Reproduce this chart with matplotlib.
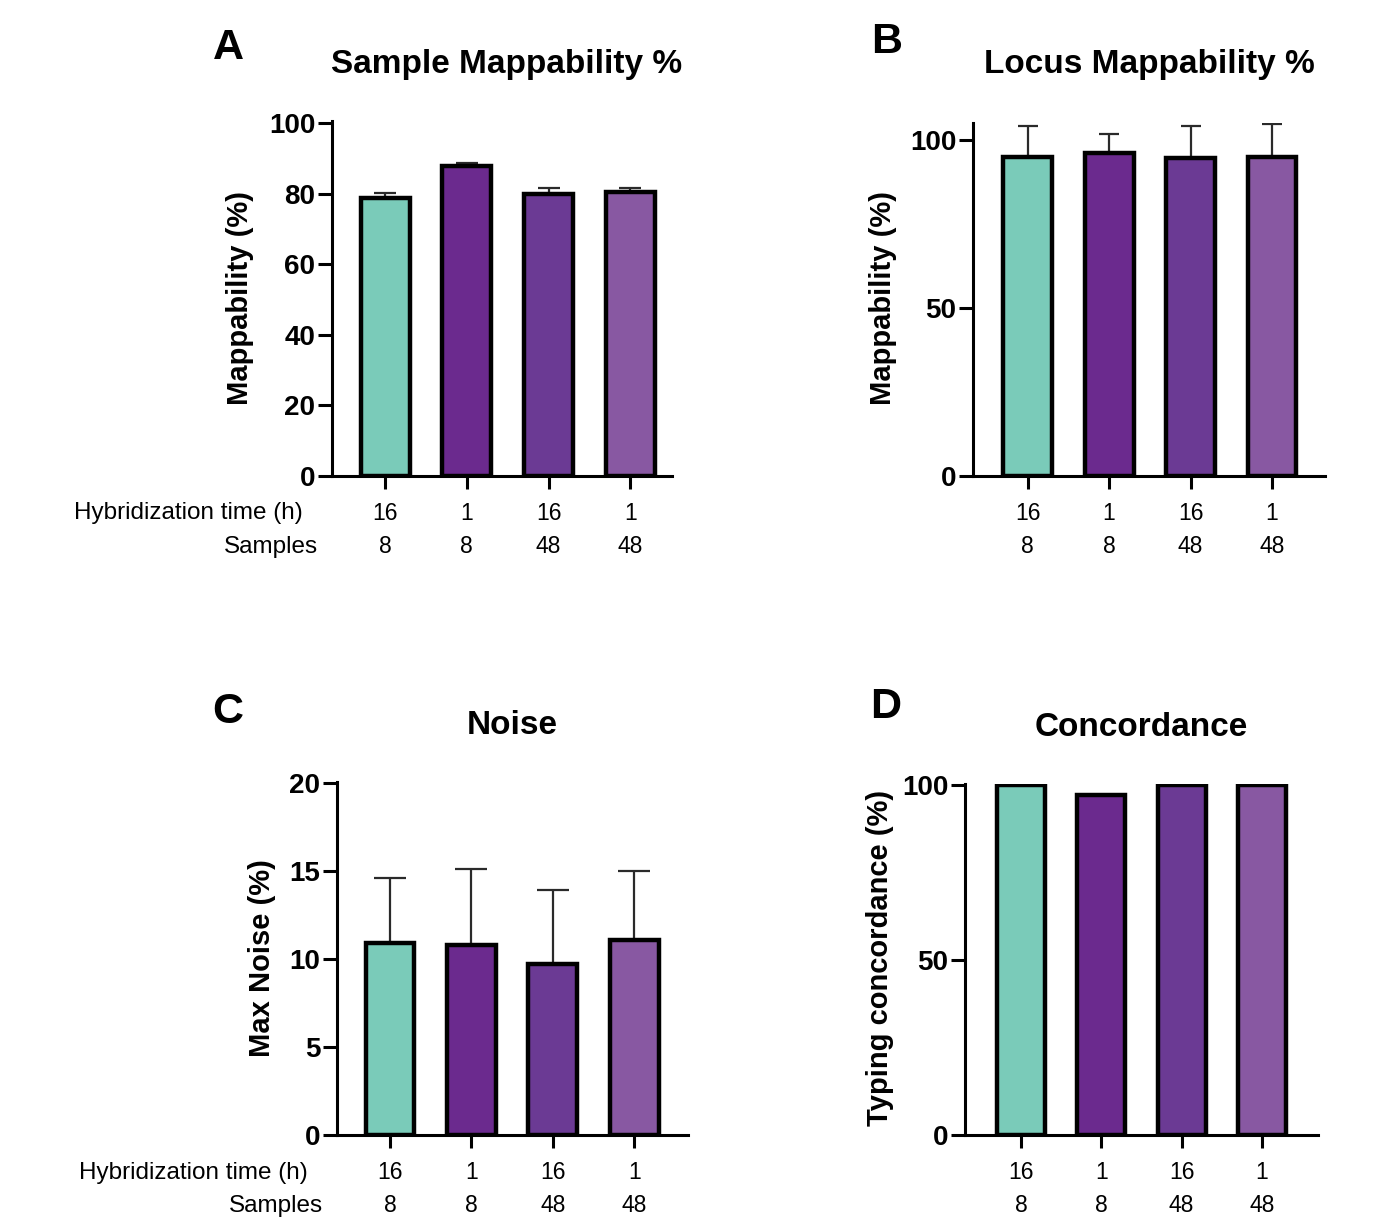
import numpy as np
from matplotlib import pyplot as plt

plt.rcParams['font.family'] = ['Liberation Sans', 'DejaVu Sans']

# bar groups (hybridization time, samples)
hyb_times = ['16', '1', '16', '1']
samples = ['8', '8', '48', '48']
bar_colors = ['#7ACBB9', '#6B2A8E', '#6B3A94', '#8858A2']

# A - sample mappability
sample_map = [78.7, 87.8, 79.9, 80.4]
sample_map_err = [1.5, 1.0, 1.7, 1.1]

# B - locus mappability
locus_map = [95.0, 96.1, 94.6, 95.0]
locus_map_err = [9.2, 5.7, 9.6, 9.8]

# C - noise
noise = [10.9, 10.8, 9.7, 11.1]
noise_err = [3.7, 4.3, 4.2, 3.9]

# D - concordance
concordance = [100.0, 97.1, 100.0, 100.0]

W, H = 1390, 1218
fig = plt.figure(figsize=(W / 100, H / 100), dpi=100)


def px_axes(x0, x1, ytop, ybot):
    return fig.add_axes([x0 / W, 1 - ybot / H, (x1 - x0) / W, (ybot - ytop) / H])


def fig_text(x, y, s, **kw):
    fig.text(x / W, 1 - y / H, s, **kw)


def draw_panel(ax, vals, errs, ymax, yticks, xlim, capsize, row_labels):
    x = np.arange(len(vals))
    if errs is not None:
        ax.errorbar(x, vals, yerr=[np.zeros(len(errs)), errs], fmt='none',
                    ecolor='#2a2a2a', elinewidth=1.6, capsize=capsize,
                    capthick=1.6, zorder=1)
    ax.bar(x, vals, width=0.6, color=bar_colors, edgecolor='black',
           linewidth=3.2, zorder=2)
    ax.set_xlim(*xlim)
    ax.set_ylim(0, ymax)
    ax.set_yticks(yticks)
    ax.set_xticks(x)
    ax.set_xticklabels([])
    for s in ['top', 'right']:
        ax.spines[s].set_visible(False)
    for s in ['left', 'bottom']:
        ax.spines[s].set_linewidth(2.2)
    ax.tick_params(axis='y', length=10, width=2.2, labelsize=20, pad=2)
    ax.tick_params(axis='x', length=9, width=2.2)
    for lab in ax.get_yticklabels():
        lab.set_fontweight('bold')
    for i in x:
        ax.annotate(hyb_times[i], xy=(i, 0), xycoords=('data', 'axes fraction'),
                    xytext=(0, -27), textcoords='offset points',
                    ha='center', va='center', fontsize=16.5)
        ax.annotate(samples[i], xy=(i, 0), xycoords=('data', 'axes fraction'),
                    xytext=(0, -51), textcoords='offset points',
                    ha='center', va='center', fontsize=16.5)
    if row_labels:
        ax.annotate('Hybridization time (h)', xy=(0, 0), xycoords='axes fraction',
                    xytext=(-21, -27), textcoords='offset points',
                    ha='right', va='center', fontsize=17.5)
        ax.annotate('Samples', xy=(0, 0), xycoords='axes fraction',
                    xytext=(-10, -51), textcoords='offset points',
                    ha='right', va='center', fontsize=17.5)


axA = px_axes(332, 672, 121, 476)
draw_panel(axA, sample_map, sample_map_err, 100.6, [0, 20, 40, 60, 80, 100],
           (-0.65, 3.51), 8, True)

axB = px_axes(973, 1325, 123, 476)
draw_panel(axB, locus_map, locus_map_err, 105.1, [0, 50, 100],
           (-0.67, 3.65), 7, False)

axC = px_axes(337, 688, 782, 1135)
draw_panel(axC, noise, noise_err, 20.05, [0, 5, 10, 15, 20],
           (-0.65, 3.66), 11.5, True)

axD = px_axes(965, 1318, 784, 1135)
draw_panel(axD, concordance, None, 100.3, [0, 50, 100],
           (-0.70, 3.70), 0, False)

# titles, y labels and panel letters
fig_text(507, 65, 'Sample Mappability %', ha='center', va='center', fontsize=24, fontweight='bold')
fig_text(1149, 65, 'Locus Mappability %', ha='center', va='center', fontsize=24, fontweight='bold')
fig_text(512, 725, 'Noise', ha='center', va='center', fontsize=24, fontweight='bold')
fig_text(1141, 728, 'Concordance', ha='center', va='center', fontsize=24, fontweight='bold')

fig_text(240, 298, 'Mappability (%)', rotation=90, ha='center', va='center', fontsize=21, fontweight='bold')
fig_text(883, 298, 'Mappability (%)', rotation=90, ha='center', va='center', fontsize=21, fontweight='bold')
fig_text(262, 958, 'Max Noise (%)', rotation=90, ha='center', va='center', fontsize=21, fontweight='bold')
fig_text(880, 958, 'Typing concordance (%)', rotation=90, ha='center', va='center', fontsize=21, fontweight='bold')

fig_text(228, 48, 'A', ha='center', va='center', fontsize=31, fontweight='bold')
fig_text(887, 42, 'B', ha='center', va='center', fontsize=31, fontweight='bold')
fig_text(228, 712, 'C', ha='center', va='center', fontsize=31, fontweight='bold')
fig_text(886, 707, 'D', ha='center', va='center', fontsize=31, fontweight='bold')

plt.savefig('out.png', dpi=100, facecolor='white')
